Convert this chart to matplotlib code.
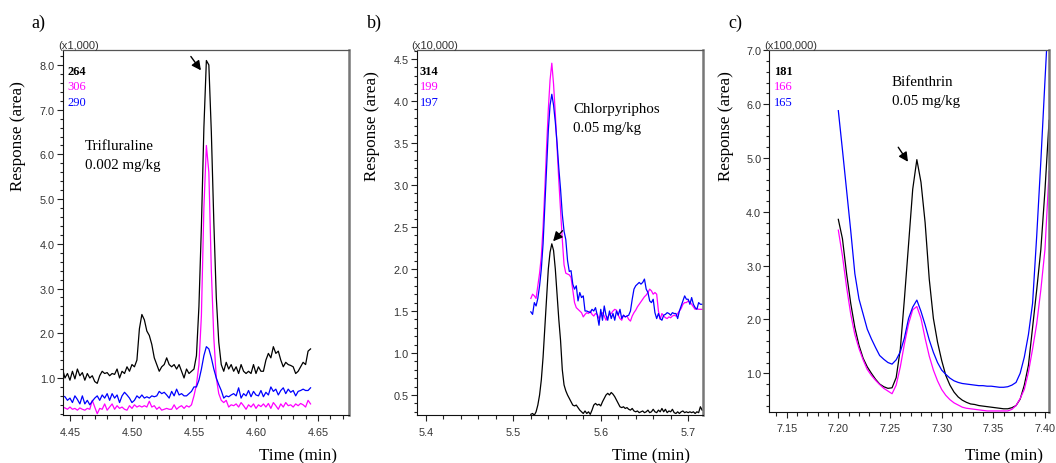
import numpy as np
import matplotlib
matplotlib.use("Agg")
import matplotlib.pyplot as plt
from matplotlib.ticker import MultipleLocator, FormatStrFormatter

# ---------------- data ----------------
# Panel a: Trifluraline (time grid start / sampling step, min)
T0_A, DT_A = 4.444, 0.002
BLACK_A = [1.20, 1.00, 1.10, 0.95, 1.15, 0.98, 1.20, 1.05, 1.12, 0.95,
           1.10, 1.00, 1.05, 0.92, 0.88, 1.05, 1.15, 1.10, 1.12, 1.05,
           1.10, 1.08, 1.20, 1.00, 1.15, 1.10, 1.25, 1.15, 1.30, 1.25,
           1.40, 2.10, 2.42, 2.30, 2.05, 1.95, 1.75, 1.45, 1.30, 1.15,
           1.25, 1.30, 1.45, 1.30, 1.25, 1.30, 1.20, 1.30, 1.15, 1.00,
           1.20, 1.10, 1.15, 1.20, 1.50, 2.60, 4.40, 6.60, 8.10, 8.00,
           6.50, 4.50, 2.80, 1.80, 1.30, 1.15, 1.35, 1.20, 1.30, 1.15,
           1.25, 1.10, 1.30, 1.15, 1.10, 1.15, 1.10, 1.30, 1.10, 1.25,
           1.15, 1.15, 1.40, 1.55, 1.45, 1.70, 1.55, 1.60, 1.40, 1.25,
           1.35, 1.30, 1.28, 1.25, 1.10, 1.15, 1.25, 1.35, 1.30, 1.60,
           1.65]
PINK_A = [0.35, 0.33, 0.30, 0.35, 0.30, 0.32, 0.28, 0.33, 0.30, 0.28,
          0.32, 0.30, 0.50, 0.35, 0.20, 0.32, 0.30, 0.42, 0.28, 0.35,
          0.42, 0.30, 0.38, 0.32, 0.35, 0.30, 0.28, 0.38, 0.32, 0.40,
          0.35, 0.38, 0.35, 0.38, 0.35, 0.48, 0.35, 0.38, 0.30, 0.35,
          0.28, 0.30, 0.32, 0.30, 0.30, 0.40, 0.30, 0.35, 0.38, 0.32,
          0.38, 0.35, 0.40, 0.60, 0.85, 1.30, 2.40, 4.80, 6.20, 5.60,
          3.40, 1.90, 1.00, 0.65, 0.50, 0.45, 0.50, 0.35, 0.40, 0.38,
          0.42, 0.35, 0.45, 0.38, 0.30, 0.40, 0.35, 0.42, 0.32, 0.40,
          0.36, 0.42, 0.35, 0.43, 0.32, 0.45, 0.38, 0.30, 0.42, 0.35,
          0.45, 0.38, 0.40, 0.35, 0.42, 0.38, 0.43, 0.40, 0.35, 0.50,
          0.42]
BLUE_A = [0.60, 0.58, 0.50, 0.55, 0.45, 0.60, 0.52, 0.42, 0.60, 0.42,
          0.50, 0.40, 0.48, 0.55, 0.60, 0.50, 0.62, 0.55, 0.65, 0.50,
          0.65, 0.55, 0.62, 0.45, 0.60, 0.68, 0.62, 0.55, 0.45, 0.50,
          0.60, 0.55, 0.62, 0.55, 0.58, 0.55, 0.60, 0.58, 0.60, 0.70,
          0.65, 0.68, 0.62, 0.55, 0.70, 0.60, 0.75, 0.62, 0.65, 0.60,
          0.60, 0.65, 0.70, 0.80, 0.80, 0.95, 1.20, 1.50, 1.70, 1.65,
          1.45, 1.20, 1.00, 0.85, 0.72, 0.55, 0.60, 0.58, 0.62, 0.65,
          0.60, 0.78, 0.55, 0.65, 0.60, 0.72, 0.58, 0.70, 0.62, 0.60,
          0.72, 0.58, 0.68, 0.62, 0.80, 0.70, 0.75, 0.62, 0.72, 0.78,
          0.65, 0.75, 0.68, 0.72, 0.60, 0.70, 0.72, 0.75, 0.72, 0.72,
          0.78]

# Panel b: Chlorpyriphos
T0_B, DT_B = 5.520, 0.002
BLACK_B = [0.27, 0.28, 0.26, 0.30, 0.38, 0.50, 0.68, 0.95, 1.30, 1.65,
           2.00, 2.20, 2.30, 2.22, 2.00, 1.70, 1.40, 1.15, 0.80, 0.62,
           0.55, 0.50, 0.46, 0.42, 0.38, 0.37, 0.38, 0.35, 0.32, 0.30,
           0.28, 0.31, 0.28, 0.30, 0.27, 0.32, 0.38, 0.40, 0.38, 0.39,
           0.37, 0.42, 0.46, 0.50, 0.52, 0.50, 0.53, 0.51, 0.48, 0.44,
           0.40, 0.36, 0.35, 0.36, 0.34, 0.35, 0.33, 0.32, 0.34, 0.31,
           0.30, 0.31, 0.29, 0.30, 0.31, 0.29, 0.30, 0.32, 0.29, 0.30,
           0.33, 0.30, 0.29, 0.32, 0.30, 0.34, 0.30, 0.33, 0.29, 0.31,
           0.30, 0.33, 0.29, 0.28, 0.30, 0.28, 0.30, 0.31, 0.29, 0.30,
           0.29, 0.30, 0.29, 0.30, 0.28, 0.30, 0.29, 0.36, 0.32]
PINK_B = [1.65, 1.70, 1.68, 1.65, 1.80, 1.95, 2.15, 2.50, 2.95, 3.45,
          3.90, 4.25, 4.45, 4.20, 3.85, 3.45, 3.05, 2.70, 2.35, 2.05,
          1.95, 1.94, 1.93, 1.90, 1.75, 1.60, 1.54, 1.52, 1.50, 1.48,
          1.43, 1.46, 1.48, 1.47, 1.50, 1.46, 1.44, 1.47, 1.46, 1.41,
          1.45, 1.48, 1.44, 1.39, 1.43, 1.46, 1.47, 1.50, 1.52, 1.51,
          1.45, 1.41, 1.39, 1.45, 1.43, 1.44, 1.40, 1.38, 1.44, 1.48,
          1.51, 1.55, 1.58, 1.61, 1.64, 1.67, 1.69, 1.72, 1.76, 1.74,
          1.70, 1.72, 1.70, 1.50, 1.40, 1.47, 1.44, 1.42, 1.41, 1.43,
          1.42, 1.44, 1.45, 1.44, 1.47, 1.50, 1.53, 1.58, 1.60, 1.60,
          1.62, 1.61, 1.58, 1.55, 1.52, 1.53, 1.52, 1.52, 1.52]
BLUE_B = [1.49, 1.46, 1.60, 1.56, 1.65, 1.80, 2.00, 2.30, 2.75, 3.20,
          3.65, 3.95, 4.08, 3.95, 3.75, 3.50, 3.20, 2.95, 2.65, 2.45,
          2.35, 2.10, 1.97, 1.98, 1.82, 1.76, 1.80, 1.62, 1.72, 1.66,
          1.68, 1.50, 1.50, 1.49, 1.48, 1.52, 1.50, 1.54, 1.45, 1.33,
          1.52, 1.39, 1.56, 1.45, 1.39, 1.50, 1.41, 1.47, 1.39, 1.50,
          1.45, 1.52, 1.41, 1.45, 1.43, 1.44, 1.45, 1.50, 1.64, 1.76,
          1.80, 1.82, 1.84, 1.82, 1.84, 1.88, 1.76, 1.72, 1.62, 1.60,
          1.64, 1.48, 1.41, 1.47, 1.41, 1.39, 1.45, 1.46, 1.48, 1.47,
          1.45, 1.48, 1.47, 1.47, 1.41, 1.50, 1.56, 1.62, 1.68, 1.64,
          1.64, 1.58, 1.66, 1.58, 1.54, 1.52, 1.60, 1.58, 1.58]

# Panel c: Bifenthrin
T0_C, DT_C = 7.200, 0.004
BLACK_C = [3.86, 3.50, 2.85, 2.30, 1.85, 1.52, 1.28, 1.12, 1.00, 0.89,
           0.80, 0.75, 0.72, 0.73, 0.92, 1.45, 2.39, 3.40, 4.42, 4.97,
           4.55, 3.80, 2.75, 2.02, 1.58, 1.24, 0.96, 0.78, 0.65, 0.56,
           0.50, 0.46, 0.43, 0.42, 0.40, 0.39, 0.38, 0.37, 0.36, 0.35,
           0.34, 0.34, 0.36, 0.40, 0.52, 0.78, 1.15, 1.85, 2.55, 3.30,
           4.40, 5.70]
PINK_C = [3.66, 3.18, 2.60, 2.10, 1.72, 1.46, 1.25, 1.07, 0.96, 0.87,
          0.79, 0.72, 0.67, 0.62, 0.78, 1.12, 1.55, 1.92, 2.18, 2.24,
          2.02, 1.65, 1.32, 1.06, 0.86, 0.70, 0.59, 0.51, 0.45, 0.41,
          0.37, 0.35, 0.34, 0.33, 0.32, 0.31, 0.30, 0.30, 0.30, 0.30,
          0.30, 0.30, 0.33, 0.40, 0.53, 0.70, 1.02, 1.45, 1.92, 2.55,
          3.30, 4.75]
BLUE_C = [5.88, 5.15, 4.40, 3.65, 2.85, 2.38, 2.10, 1.82, 1.64, 1.48,
          1.33, 1.26, 1.20, 1.17, 1.25, 1.40, 1.66, 2.02, 2.23, 2.36,
          2.15, 1.90, 1.62, 1.39, 1.20, 1.06, 0.98, 0.91, 0.86, 0.83,
          0.81, 0.80, 0.79, 0.78, 0.77, 0.77, 0.76, 0.76, 0.75, 0.74,
          0.74, 0.75, 0.78, 0.83, 1.00, 1.30, 1.72, 2.30, 3.55, 4.94,
          6.44, 7.90]

PANEL_LETTERS = ["a)", "b)", "c)"]
SCALES = ["(x1,000)", "(x10,000)", "(x100,000)"]
IONS = [["264", "306", "290"], ["314", "199", "197"], ["181", "166", "165"]]
COMPOUNDS = [["Trifluraline", "0.002 mg/kg"], ["Chlorpyriphos", "0.05 mg/kg"],
             ["Bifenthrin", "0.05 mg/kg"]]
ARROWS = [((4.5475, 8.19), (4.5556, 7.88)),
          ((5.5562, 2.456), (5.5455, 2.33)),
          ((7.2580, 5.20), (7.2674, 4.93))]

# ---------------- layout ----------------
W, H = 1056, 464
fig = plt.figure(figsize=(W / 100, H / 100), dpi=100)
SERIF = ['Liberation Serif', 'DejaVu Serif']
SANS = ['Liberation Sans', 'DejaVu Sans']
COLORS = ['#000000', '#ff00ff', '#0000ff']


def fx(x):
    return x / W


def fy(y):
    return 1 - y / H


def rect(l, t, r, b):
    return [fx(l), fy(b), (r - l) / W, (b - t) / H]


panels = [
    dict(rect=rect(63, 51, 349, 416), xlim=(4.4444, 4.675), ylim=(0.172, 8.335),
         xmaj=0.05, xmin=0.01, ymaj=1.0, ymin=0.2, xfmt='%.2f',
         t0=T0_A, dt=DT_A, series=[BLACK_A, PINK_A, BLUE_A],
         letter_x=31, ion_x=67, comp_xy=(85, 147), ylab_xy=(18, 136), xlab_r=337),
    dict(rect=rect(416.7, 51, 703, 416), xlim=(5.3894, 5.717), ylim=(0.262, 4.607),
         xmaj=0.1, xmin=0.02, ymaj=0.5, ymin=0.1, xfmt='%.1f',
         t0=T0_B, dt=DT_B, series=[BLACK_B, PINK_B, BLUE_B],
         letter_x=367, ion_x=420, comp_xy=(573, 110), ylab_xy=(372, 126), xlab_r=690),
    dict(rect=rect(769.3, 51, 1049, 412.7), xlim=(7.1332, 7.4039), ylim=(0.286, 7.007),
         xmaj=0.05, xmin=0.01, ymaj=1.0, ymin=0.2, xfmt='%.2f',
         t0=T0_C, dt=DT_C, series=[BLACK_C, PINK_C, BLUE_C],
         letter_x=728, ion_x=774, comp_xy=(892, 83), ylab_xy=(726, 126), xlab_r=1043),
]

for i, p in enumerate(panels):
    ax = fig.add_axes(p['rect'])
    for vals, col in zip(p['series'], COLORS):
        t = p['t0'] + p['dt'] * np.arange(len(vals))
        ax.plot(t, vals, color=col, lw=0.9)
    ax.set_xlim(*p['xlim'])
    ax.set_ylim(*p['ylim'])
    ax.xaxis.set_major_locator(MultipleLocator(p['xmaj']))
    ax.xaxis.set_minor_locator(MultipleLocator(p['xmin']))
    ax.yaxis.set_major_locator(MultipleLocator(p['ymaj']))
    ax.yaxis.set_minor_locator(MultipleLocator(p['ymin']))
    ax.xaxis.set_major_formatter(FormatStrFormatter(p['xfmt']))
    ax.yaxis.set_major_formatter(FormatStrFormatter('%.1f'))
    ax.tick_params(which='both', direction='out', top=False, right=False,
                   width=0.8, color='#222')
    ax.tick_params(axis='y', which='major', length=4.3, pad=1.5)
    ax.tick_params(axis='y', which='minor', length=2.5)
    ax.tick_params(axis='x', which='major', length=4.3, pad=4)
    ax.tick_params(axis='x', which='minor', length=3.0)
    for lab in ax.get_xticklabels() + ax.get_yticklabels():
        lab.set_fontfamily(SANS)
        lab.set_fontsize(7.8)
        lab.set_color('#333333')
    ax.spines['left'].set_color('#111')
    ax.spines['bottom'].set_color('#111')
    ax.spines['left'].set_linewidth(0.8)
    ax.spines['bottom'].set_linewidth(0.8)
    ax.spines['top'].set_color('#555')
    ax.spines['top'].set_linewidth(0.9)
    ax.spines['right'].set_color('#777')
    ax.spines['right'].set_linewidth(1.8)

    # arrow
    tail, head = ARROWS[i]
    ax.annotate('', xy=head, xytext=tail,
                arrowprops=dict(arrowstyle='-|>,head_length=0.55,head_width=0.28',
                                color='k', lw=1.0, shrinkA=0, shrinkB=0,
                                mutation_scale=10))

    # texts
    fig.text(fx(p['letter_x']), fy(23), PANEL_LETTERS[i], family=SERIF,
             fontsize=13, ha='left', va='center')
    fig.text(fx(p['rect'][0] * W - 5), fy(46), SCALES[i], family=SANS,
             fontsize=8, ha='left', va='center', color='#333333')
    for j, (ion, col) in enumerate(zip(IONS[i], COLORS)):
        fig.text(fx(p['ion_x']), fy(72 + 15.5 * j), ion, family=SERIF,
                 fontsize=9, color=col, ha='left', va='center',
                 fontweight='bold' if j == 0 else 'normal')
    cx, cy = p['comp_xy']
    fig.text(fx(cx), fy(cy), COMPOUNDS[i][0], family=SERIF, fontsize=10.8,
             ha='left', va='center')
    fig.text(fx(cx), fy(cy + 19), COMPOUNDS[i][1], family=SERIF, fontsize=10.8,
             ha='left', va='center')
    fig.text(fx(p['ylab_xy'][0]), fy(p['ylab_xy'][1]), 'Response (area)',
             family=SERIF, fontsize=12.3, rotation=90, ha='center', va='center')
    fig.text(fx(p['xlab_r']), fy(456), 'Time (min)', family=SERIF,
             fontsize=12.3, ha='right', va='center')

fig.savefig('out.png', dpi=100)
